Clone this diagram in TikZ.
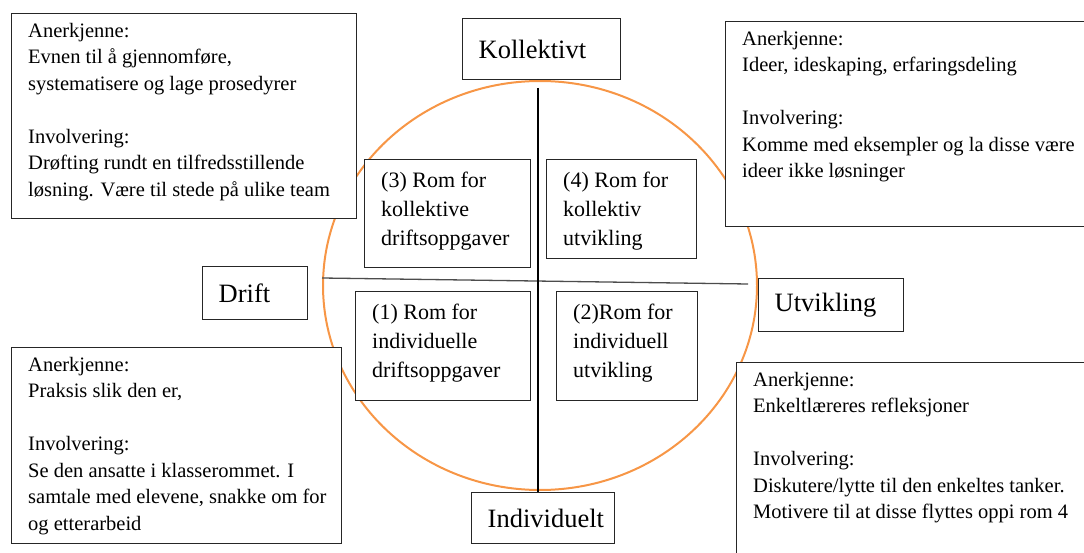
\documentclass[tikz,border=0pt]{standalone}
\usepackage{fontspec}
\setmainfont{Liberation Serif}
\definecolor{arcorange}{RGB}{247,150,70}

\begin{document}
\begin{tikzpicture}[x=1pt,y=-1pt,
    framebox/.style={draw=black!85, fill=white, line width=1.4pt, anchor=north west, inner sep=0pt},
    boxtext/.style={anchor=north west, inner sep=0pt, align=left, font=\fontsize{20.5}{26.5}\selectfont},
    roomtext/.style={anchor=north west, inner sep=0pt, align=left, font=\fontsize{22}{29}\selectfont},
    axislabel/.style={draw=black!85, fill=white, line width=1.4pt, anchor=north west, inner xsep=16pt, inner ysep=0pt, align=left, font=\fontsize{26.5}{30}\selectfont}]
  \useasboundingbox (0,0) rectangle (1084,553);
  % circle and the two axes
  \draw[arcorange, line width=2pt] (540,285.5) ellipse [x radius=217pt, y radius=204.5pt];
  \coordinate (vtop) at (538,88);
  \coordinate (hleft) at (322,278);
  \coordinate (hright) at (748,284);
  \draw[black!70, line width=1.3pt] (hleft) -- (hright);

  % axis labels
  \node[axislabel, text width=126pt, minimum height=61pt] (koll) at (462,18) {Kollektivt};
  \node[axislabel, text width=73pt, minimum height=53pt] (drift) at (202,266) {Drift};
  \node[axislabel, text width=113pt, minimum height=53pt] (utv) at (758,278) {Utvikling};
  \node[axislabel, text width=111pt, minimum height=51pt] (ind) at (471,492) {Individuelt};
  \draw[line width=1.3pt] (vtop) -- (vtop |- ind.north);

  % the four rooms
  \node[framebox, minimum width=166pt, minimum height=108pt] (rom3) at (364,159) {};
  \node[roomtext] at ([shift={(17pt,-13pt)}]rom3.north west) {(3) Rom for\\kollektive\\driftsoppgaver};
  \node[framebox, minimum width=150pt, minimum height=99pt] (rom4) at (546,159) {};
  \node[roomtext] at ([shift={(17pt,-13pt)}]rom4.north west) {(4) Rom for\\kollektiv\\utvikling};
  \node[framebox, minimum width=175pt, minimum height=109pt] (rom1) at (355,291) {};
  \node[roomtext] at ([shift={(17pt,-13pt)}]rom1.north west) {(1) Rom for\\individuelle\\driftsoppgaver};
  \node[framebox, minimum width=141pt, minimum height=109pt] (rom2) at (556,291) {};
  \node[roomtext] at ([shift={(17pt,-13pt)}]rom2.north west) {(2)Rom for\\individuell\\utvikling};

  % corner boxes
  \node[framebox, minimum width=345pt, minimum height=205pt] (tl) at (11,13) {};
  \node[boxtext] at ([shift={(17pt,-10pt)}]tl.north west) {Anerkjenne:\\Evnen til å gjennomføre,\\systematisere og lage prosedyrer\\[26.5pt]Involvering:\\Drøfting rundt en tilfredsstillende\\løsning. Være til stede på ulike team};
  \node[framebox, minimum width=370pt, minimum height=205pt] (tr) at (725,21) {};
  \node[boxtext] at ([shift={(17pt,-10pt)}]tr.north west) {Anerkjenne:\\Ideer, ideskaping, erfaringsdeling\\[26.5pt]Involvering:\\Komme med eksempler og la disse være\\ideer ikke løsninger};
  \node[framebox, minimum width=330pt, minimum height=196pt] (bl) at (11,347) {};
  \node[boxtext] at ([shift={(17pt,-10pt)}]bl.north west) {Anerkjenne:\\Praksis slik den er,\\[26.5pt]Involvering:\\Se den ansatte i klasserommet. I\\samtale med elevene, snakke om for\\og etterarbeid};
  \node[framebox, minimum width=360pt, minimum height=200pt] (br) at (736,362) {};
  \node[boxtext] at ([shift={(17pt,-10pt)}]br.north west) {Anerkjenne:\\Enkeltlæreres refleksjoner\\[26.5pt]Involvering:\\Diskutere/lytte til den enkeltes tanker.\\Motivere til at disse flyttes oppi rom 4};
\end{tikzpicture}
\end{document}
